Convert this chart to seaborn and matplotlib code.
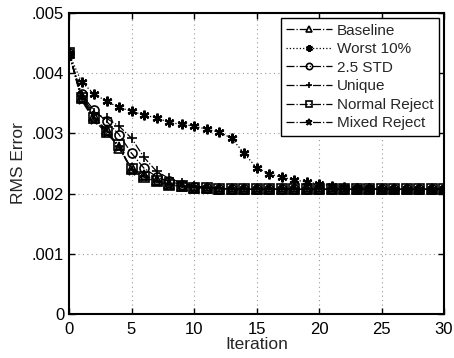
import numpy as np
import pandas as pd
import matplotlib
matplotlib.use("Agg")
import matplotlib.pyplot as plt
import seaborn as sns
from matplotlib.ticker import FuncFormatter

iterations = list(range(31))
tail = [2.07] * 17
baseline = [4.33, 3.60, 3.28, 3.05, 2.75, 2.42, 2.30, 2.22, 2.16, 2.12, 2.10, 2.09, 2.08, 2.08] + tail
worst10 = [4.33, 3.85, 3.66, 3.53, 3.43, 3.37, 3.30, 3.26, 3.18, 3.15, 3.12, 3.07, 3.02, 2.92,
           2.67, 2.43, 2.33, 2.27, 2.23, 2.19, 2.16, 2.13, 2.11, 2.10, 2.09, 2.08, 2.08, 2.08,
           2.07, 2.07, 2.07]
std25 = [4.33, 3.65, 3.38, 3.20, 2.98, 2.67, 2.42, 2.28, 2.20, 2.15, 2.11, 2.09, 2.08, 2.08] + tail
unique = [4.33, 3.62, 3.33, 3.25, 3.12, 2.92, 2.60, 2.37, 2.25, 2.18, 2.13, 2.10, 2.09, 2.08] + tail
normal_reject = [4.33, 3.58, 3.25, 3.03, 2.80, 2.40, 2.28, 2.20, 2.15, 2.12, 2.10, 2.09, 2.08, 2.08] + tail
mixed_reject = [4.33, 3.55, 3.22, 3.00, 2.78, 2.38, 2.27, 2.19, 2.15, 2.11, 2.10, 2.09, 2.08, 2.08] + tail

series = [
    ("Baseline", baseline, "-.", "^", "none"),
    ("Worst 10%", worst10, ":", (6, 2, 0), "black"),
    ("2.5 STD", std25, "-.", "o", "none"),
    ("Unique", unique, "-.", "+", "none"),
    ("Normal Reject", normal_reject, "-.", "s", "none"),
    ("Mixed Reject", mixed_reject, "-.", "*", "none"),
]

sns.set_theme(style="white")
plt.rcParams['font.family'] = ['Liberation Sans', 'DejaVu Sans']

fig = plt.figure(figsize=(4.54, 3.58), dpi=100)
ax = fig.add_axes([0.152, 0.123, 0.826, 0.841])

for name, vals, ls, mk, mfc in series:
    df = pd.DataFrame({"Iteration": iterations, "RMS": np.array(vals) / 1000.0})
    ms = 7 if mk == (6, 2, 0) else 6.5
    mew = 1.6 if mk == (6, 2, 0) else 1.2
    sns.lineplot(data=df, x="Iteration", y="RMS", ax=ax, color="black", linestyle=ls,
                 linewidth=0.9, marker=mk, markersize=ms, markerfacecolor=mfc,
                 markeredgecolor="black", markeredgewidth=mew, label=name)

ax.set_xlim(0, 30)
ax.set_ylim(0, 0.005)
ax.set_xticks([0, 5, 10, 15, 20, 25, 30])
ax.set_yticks([0, 0.001, 0.002, 0.003, 0.004, 0.005])
ax.yaxis.set_major_formatter(FuncFormatter(lambda v, p: "0" if v == 0 else ("%.3f" % v)[1:]))
ax.grid(True, color="#999999", linestyle=(0, (1, 3)), linewidth=0.8)
for s in ax.spines.values():
    s.set_color("black")
    s.set_linewidth(1.5)
ax.tick_params(direction="in", length=4, width=1, colors="black", labelsize=12,
               top=True, right=True, bottom=True, left=True)
ax.tick_params(axis="x", pad=5.5)
ax.tick_params(axis="y", pad=3.5)
ax.set_xlabel("Iteration", fontsize=12.5, labelpad=0)
ax.set_ylabel("RMS Error", fontsize=12.5, labelpad=4)

leg = ax.legend(loc="upper right", fontsize=11, frameon=True, fancybox=False,
                edgecolor="black", framealpha=1, handlelength=3.0, handletextpad=0.3,
                labelspacing=0.3, borderpad=0.35, borderaxespad=0.35, markerscale=0.7)
leg.get_frame().set_linewidth(1.0)

fig.savefig("out.png", dpi=100)
